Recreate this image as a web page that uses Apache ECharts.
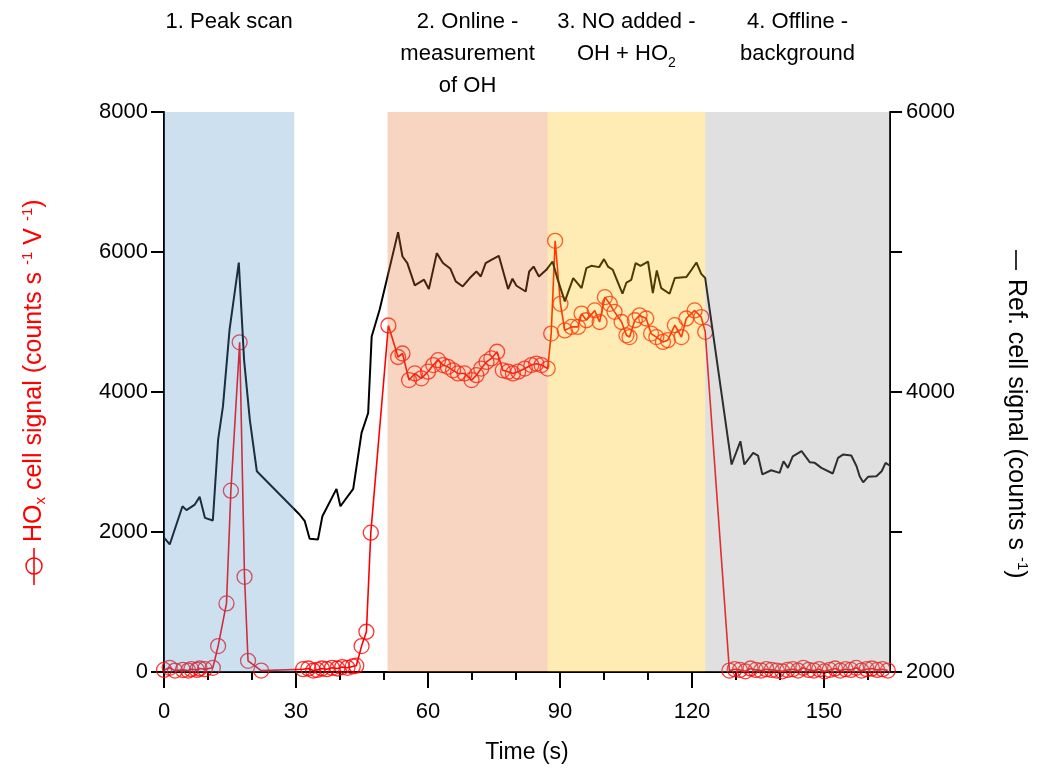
<!DOCTYPE html>
<html>
<head>
<meta charset="utf-8">
<script src="https://cdn.jsdelivr.net/npm/echarts@6/dist/echarts.min.js"></script>
<style>
html,body{margin:0;padding:0;background:#fff;}
#chart{width:1039px;height:769px;}
</style>
</head>
<body>
<div id="chart"></div>
<script>
// ---- Data ----
const phaseNames = ['1. Peak scan', '2. Online -\nmeasurement\nof OH', '3. NO added -\nOH + HO{sub|2}', '4. Offline -\nbackground'];
const phaseStart = [0, 50.8, 87.2, 123.0];
const phaseEnd = [29.6, 87.2, 123.0, 165];

const hoxTime = [0, 1.3, 2.5, 4.3, 5.5, 6.2, 7.5, 8.1, 9.3, 11.1, 12.3, 14.2, 15.2, 17.2, 18.3, 19.1, 22.1,
  31.6, 32.8, 33.9, 34.8, 35.9, 37.0, 38.2, 39.4, 40.5, 41.7, 42.9, 43.7, 44.9, 46.0, 47.0,
  51.0, 53.2, 54.2, 55.7, 57.0, 58.5, 60.0, 61.2, 62.3, 63.4, 64.5, 65.7, 66.8, 68.3, 69.9, 71.0, 72.1, 73.3, 74.4, 75.7,
  77.0, 78.2, 79.3, 80.5, 82.0, 83.5, 84.6, 85.8, 87.2, 88.0, 88.9,
  90.1, 91.1, 92.6, 94.1, 94.9, 96.0, 97.9, 99.0, 100.2, 101.3, 102.4, 104.0, 105.1, 105.8, 107.0, 108.1, 109.6, 110.7,
  111.9, 113.4, 114.5, 116.1, 117.6, 118.7, 120.6, 122.1, 123.0,
  128.5, 129.7, 130.9, 132.1, 133.3, 134.5, 135.7, 136.9, 138.1, 139.3, 140.5, 141.7, 142.9, 144.1, 145.3, 146.5,
  147.7, 148.9, 150.1, 151.3, 152.5, 153.7, 154.9, 156.1, 157.3, 158.5, 159.7, 160.9, 162.1, 163.3, 164.5];
const hoxValues = [30, 60, 20, 30, 20, 40, 30, 50, 40, 60, 370, 980, 2590, 4710, 1360, 160, 20,
  40, 50, 20, 30, 50, 40, 60, 50, 70, 60, 80, 90, 370, 575, 1990,
  4950, 4500, 4550, 4170, 4265, 4195, 4290, 4385, 4455, 4385, 4360, 4310, 4265, 4265, 4170, 4240, 4335, 4430, 4480, 4575,
  4310, 4290, 4265, 4290, 4335, 4385, 4405, 4385, 4335, 4835, 6160,
  5260, 4880, 4930, 4930, 5120, 5025, 5165, 5000, 5355, 5260, 5145, 5000, 4810, 4785, 5025, 5095, 5050, 4835,
  4785, 4715, 4740, 4955, 4785, 5050, 5165, 5070, 4860,
  20, 40, 30, 10, 50, 30, 20, 40, 30, 20, 10, 30, 40, 20, 60, 30,
  20, 40, 10, 30, 50, 20, 40, 30, 60, 20, 40, 50, 30, 40, 20];

const refTime = [0, 1.3, 4.2, 5.1, 7.0, 8.1, 9.3, 11.1, 12.3, 13.4, 14.9, 17.0, 18.2, 19.5, 21.1,
  30.8, 32.0, 33.1, 35.0, 36.0, 39.2, 40.1, 43.0, 44.9, 46.4, 47.2, 49.0, 50.9,
  53.2, 54.2, 55.3, 57.0, 59.1, 60.2, 62.0, 63.4, 65.1, 66.3, 67.9, 69.5, 71.0, 72.0, 73.1, 74.4, 76.1,
  78.2, 79.2, 80.1, 82.2, 83.0, 84.0, 85.2, 86.9, 88.3, 89.5, 91.1, 93.0, 94.9, 96.0, 97.1, 98.9,
  100.0, 100.9, 102.0, 104.2, 105.1, 106.2, 107.2, 108.3, 110.0, 111.1, 112.0, 113.0, 114.9, 116.1, 118.7,
  119.9, 121.0, 122.1, 123.0, 129.0, 131.0, 131.9, 133.9, 135.0, 136.0, 138.0, 139.9, 140.8, 141.8, 142.9,
  144.9, 146.8, 147.9, 149.4, 152.0, 153.2, 154.3, 156.2, 157.4, 158.1, 158.9, 160.0, 161.9, 163.1, 164.0, 164.9];
const refValues = [2960, 2911, 3184, 3156, 3196, 3251, 3101, 3082, 3660, 3897, 4445, 4924, 4230, 3803, 3434,
  3125, 3077, 2951, 2947, 3113, 3308, 3184, 3308, 3708, 3850, 4397, 4588, 4837,
  5142, 4968, 4921, 4762, 4802, 4735, 4992, 4921, 4880, 4790, 4754, 4814, 4861, 4825, 4921, 4944, 4973,
  4735, 4809, 4759, 4718, 4861, 4896, 4825, 4873, 4932, 4801, 4647, 4814, 4742, 4885, 4901, 4892,
  4949, 4896, 4873, 4702, 4782, 4801, 4921, 4901, 4932, 4707, 4868, 4742, 4702, 4814, 4821,
  4873, 4925, 4844, 4814, 3482, 3648, 3482, 3565, 3546, 3411, 3441, 3422, 3505, 3458, 3541,
  3577, 3498, 3494, 3458, 3418, 3530, 3553, 3546, 3470, 3398, 3355, 3394, 3398, 3434, 3494, 3475];

const xMajor = [0, 30, 60, 90, 120, 150];
const xMinor = [10, 20, 40, 50, 70, 80, 100, 110, 130, 140, 160];
const leftTicks = [0, 2000, 4000, 6000, 8000];
const rightTicks = [2000, 3000, 4000, 5000, 6000];
const rightLabels = [2000, 4000, 6000];

// ---- Styles ----
const FONT = 'Liberation Sans, Arial, sans-serif';
const bandColors = ['rgba(85,152,205,0.3)', 'rgba(232,115,45,0.3)', 'rgba(255,188,8,0.3)', 'rgba(152,152,152,0.3)'];

const chart = echarts.init(document.getElementById('chart'), null, {renderer: 'canvas'});

const axisLineStyle = {color: '#000', width: 2};
const plain = v => String(v);

chart.setOption({
  animation: false,
  backgroundColor: '#fff',
  grid: {left: 164, right: 149, top: 112, bottom: 97},
  xAxis: [{
    type: 'value', min: 0, max: 165, position: 'bottom',
    axisLine: {show: true, onZero: false, lineStyle: axisLineStyle},
    axisTick: {show: true, length: 16, inside: false, customValues: xMajor, lineStyle: {color: '#000', width: 2}},
    axisLabel: {show: true, customValues: xMajor, formatter: plain, fontSize: 22, color: '#000', fontFamily: FONT, margin: 29},
    splitLine: {show: false},
    name: 'Time (s)', nameLocation: 'middle', nameGap: 69,
    nameTextStyle: {fontSize: 23, color: '#000', fontFamily: FONT}
  }, {
    type: 'value', min: 0, max: 165, position: 'bottom',
    axisLine: {show: false},
    axisTick: {show: true, length: 8, inside: false, customValues: xMinor, lineStyle: {color: '#000', width: 2}},
    axisLabel: {show: false},
    splitLine: {show: false}
  }],
  yAxis: [{
    type: 'value', min: 0, max: 8000, interval: 2000, position: 'left',
    axisLine: {show: true, onZero: false, lineStyle: axisLineStyle},
    axisTick: {show: true, length: 13, inside: false, customValues: leftTicks, lineStyle: {color: '#000', width: 2}},
    axisLabel: {show: true, customValues: leftTicks, formatter: plain, fontSize: 22, color: '#000', fontFamily: FONT, margin: 16},
    splitLine: {show: false}
  }, {
    type: 'value', min: 2000, max: 6000, interval: 1000, position: 'right',
    axisLine: {show: true, onZero: false, lineStyle: axisLineStyle},
    axisTick: {show: true, length: 12, inside: false, customValues: rightTicks, lineStyle: {color: '#000', width: 2}},
    axisLabel: {show: true, customValues: rightLabels, formatter: plain, fontSize: 22, color: '#000', fontFamily: FONT, margin: 16},
    splitLine: {show: false}
  }],
  series: [{
    name: 'HOx', type: 'line', xAxisIndex: 0, yAxisIndex: 0, z: 3,
    data: hoxTime.map((t, i) => [t, hoxValues[i]]),
    symbol: 'circle', symbolSize: 15, showSymbol: true,
    itemStyle: {color: 'rgba(255,0,0,0)', borderColor: 'rgba(255,0,0,0.8)', borderWidth: 1.3},
    lineStyle: {color: '#ff0000', width: 1.6},
    silent: true
  }, {
    name: 'Ref', type: 'line', xAxisIndex: 0, yAxisIndex: 1, z: 4,
    data: refTime.map((t, i) => [t, refValues[i]]),
    symbol: 'none',
    lineStyle: {color: '#000', width: 2},
    silent: true
  }, {
    name: 'bands', type: 'line', xAxisIndex: 0, yAxisIndex: 0, z: 10,
    data: [],
    markArea: {
      silent: true, z: 10,
      data: phaseNames.map((n, i) => [{
        xAxis: phaseStart[i],
        itemStyle: {color: bandColors[i]},
        label: {
          show: true, formatter: n, position: 'insideTop', offset: [0, -111],
          verticalAlign: 'top', align: 'center',
          color: '#000', fontSize: 22, lineHeight: 32, fontFamily: FONT,
          rich: {sub: {fontSize: 14, lineHeight: 14, verticalAlign: 'bottom', color: '#000', fontFamily: FONT}}
        }
      }, {xAxis: phaseEnd[i]}])
    }
  }],
  graphic: [
    {
      type: 'text', x: 34, y: 542, rotation: Math.PI / 2, z: 100,
      style: {
        text: 'HO{sub|x} cell signal (counts s {sup|-1} V {sup|-1})',
        fill: '#ff0000', fontSize: 25, fontFamily: FONT, lineHeight: 28,
        align: 'left', verticalAlign: 'middle',
        rich: {
          sub: {fontSize: 15, lineHeight: 15, verticalAlign: 'bottom', fill: '#ff0000', fontFamily: FONT},
          sup: {fontSize: 15, lineHeight: 15, verticalAlign: 'top', fill: '#ff0000', fontFamily: FONT}
        }
      }
    },
    {type: 'line', z: 100, shape: {x1: 34, y1: 548, x2: 34, y2: 585}, style: {stroke: '#ff0000', lineWidth: 1.6}},
    {type: 'circle', z: 100, shape: {cx: 34, cy: 566, r: 8}, style: {stroke: '#ff0000', fill: 'none', lineWidth: 1.4}},
    {type: 'line', z: 100, shape: {x1: 1016, y1: 250, x2: 1016, y2: 270}, style: {stroke: '#000', lineWidth: 1.6}},
    {
      type: 'text', x: 1016, y: 279, rotation: -Math.PI / 2, z: 100,
      style: {
        text: 'Ref. cell signal (counts s {sup|-1})',
        fill: '#000', fontSize: 25, fontFamily: FONT, lineHeight: 28,
        align: 'left', verticalAlign: 'middle',
        rich: {
          sup: {fontSize: 15, lineHeight: 15, verticalAlign: 'top', fill: '#000', fontFamily: FONT}
        }
      }
    }
  ]
});
</script>
</body>
</html>
